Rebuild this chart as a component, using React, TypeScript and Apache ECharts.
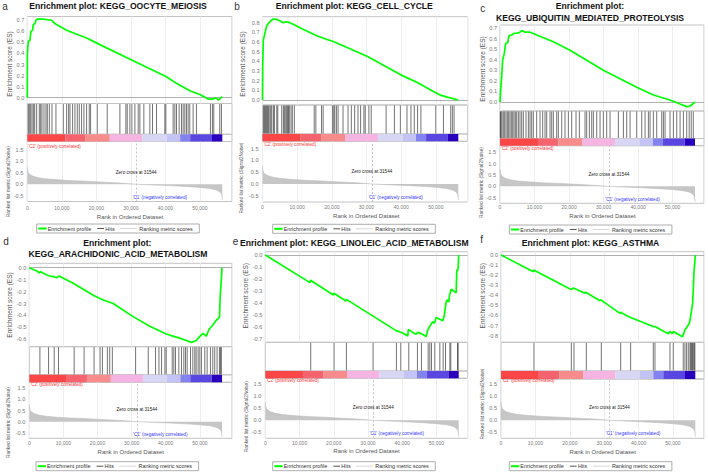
import React, { useEffect, useRef } from 'react';
import * as echarts from 'echarts';

const FONT = '"Liberation Sans", Arial, Helvetica, sans-serif';
const N_GENES = 56500;
const ZERO_CROSS = 31544;

// ---------- tick labels ----------
const xTicks = [0, 10000, 20000, 30000, 40000, 50000];
const metricTicks = [-0.5, 0, 0.5, 1.0, 1.5];
const esTicksA = [0, 0.1, 0.2, 0.3, 0.4, 0.5, 0.6, 0.7];
const esTicksB = [0, 0.1, 0.2, 0.3, 0.4, 0.5, 0.6, 0.7, 0.8];
const esTicksC = [0, 0.1, 0.2, 0.3, 0.4, 0.5, 0.6, 0.7];
const esTicksD = [-0.6, -0.5, -0.4, -0.3, -0.2, -0.1, 0];
const esTicksE = [-0.7, -0.6, -0.5, -0.4, -0.3, -0.2, -0.1, 0];
const esTicksF = [-0.8, -0.7, -0.6, -0.5, -0.4, -0.3, -0.2, -0.1, 0];

const legendLabels = ['Enrichment profile', 'Hits', 'Ranking metric scores'];

// ---------- ranked list metric (shared) ----------
const metricRanks = [0, 100, 300, 700, 1500, 3000, 5000, 8000, 12000, 17000, 22000, 27000, 31544, 36000, 41000, 46000, 50000, 53000, 55000, 56000, 56300, 56450, 56500];
const metricScores = [0.76, 0.6, 0.5, 0.43, 0.36, 0.29, 0.24, 0.2, 0.16, 0.13, 0.09, 0.05, 0, -0.03, -0.06, -0.1, -0.14, -0.19, -0.26, -0.36, -0.45, -0.58, -0.68];

// ---------- colour band of the ranked list ----------
const bandStarts = [0, 11000, 16900, 23900, 33300, 40400, 44300, 47200, 53500];
const bandEnds = [11000, 16900, 23900, 33300, 40400, 44300, 47200, 53500, 56500];
const bandColours = ['#fa4646', '#f5646e', '#f88c8c', '#f5b4e1', '#d7d7f5', '#c3c3f5', '#8282f0', '#5a46e1', '#2800be'];

// ---------- a: KEGG_OOCYTE_MEIOSIS ----------
const oocyteES = [[0, 0], [30, 0.4], [300, 0.51], [780, 0.52], [1060, 0.6], [1540, 0.61], [1730, 0.66], [2220, 0.67], [2510, 0.7], [2900, 0.71], [4630, 0.71], [7040, 0.7], [8000, 0.67], [11380, 0.61], [17170, 0.54], [21030, 0.48], [30680, 0.335], [40320, 0.19], [43220, 0.13], [47080, 0.063], [49980, 0.03], [52390, -0.012], [53840, -0.012], [54620, 0.0], [55290, -0.02], [55770, -0.01], [56500, 0.01]];
const oocyteHits = [300, 590, 970, 1360, 1750, 2130, 2710, 3480, 3870, 4250, 4830, 5410, 5800, 6380, 7150, 8300, 10430, 11390, 11970, 12360, 13130, 13800, 14480, 15060, 15730, 16410, 17180, 17950, 18340, 20270, 23160, 26830, 28560, 28950, 29720, 30300, 31170, 32130, 32620, 33770, 35510, 36280, 37440, 39850, 40140, 42260, 42750, 43230, 44000, 44680, 45160, 45640, 46120, 46600, 47080, 48050, 49010, 53060, 53640, 54030, 55760, 56250];

// ---------- b: KEGG_CELL_CYCLE ----------
const cellCycleES = [[0, 0], [60, 0.345], [240, 0.62], [700, 0.69], [1170, 0.765], [1650, 0.79], [2410, 0.82], [3080, 0.838], [4040, 0.834], [4990, 0.82], [5950, 0.8], [6900, 0.81], [7860, 0.8], [9290, 0.776], [11200, 0.74], [15990, 0.66], [20770, 0.6], [30330, 0.45], [39890, 0.26], [44670, 0.18], [49450, 0.086], [51360, 0.05], [53270, 0.03], [54710, 0.017], [56500, 0]];
const cellCycleHits = [300, 580, 870, 1160, 1440, 1730, 2110, 2400, 2690, 3160, 3450, 4120, 4410, 5550, 6030, 6320, 6700, 6990, 7280, 7470, 7750, 8230, 8610, 9190, 14920, 15400, 17030, 17500, 20180, 20560, 20850, 21330, 21810, 23240, 24680, 25630, 26590, 27550, 28310, 29260, 29650, 30700, 31370, 35670, 38060, 39780, 41690, 42840, 43800, 44750, 45710, 50010, 52210, 54310, 54790, 55280];

// ---------- c: KEGG_UBIQUITIN_MEDIATED_PROTEOLYSIS ----------
const ubiquitinES = [[0, 0], [194, 0.11], [486, 0.24], [778, 0.4], [1254, 0.46], [1643, 0.555], [2226, 0.56], [2605, 0.625], [3383, 0.634], [4150, 0.65], [4831, 0.65], [5608, 0.656], [6279, 0.675], [7251, 0.66], [8699, 0.66], [10624, 0.634], [15455, 0.57], [20286, 0.49], [29947, 0.3], [39609, 0.14], [44440, 0.066], [49271, 0.019], [52177, -0.019], [54110, -0.044], [55080, -0.038], [56500, 0]];
const ubiquitinHits = [100, 292, 583, 962, 1351, 1740, 2129, 2508, 2897, 3285, 3674, 4053, 4442, 4831, 5317, 5793, 6279, 6765, 7533, 8213, 8699, 9176, 9662, 10624, 11596, 12364, 13044, 13530, 14493, 14979, 15455, 16427, 16903, 17875, 18837, 19809, 20772, 22026, 22998, 24640, 25116, 25894, 26574, 27051, 28023, 28985, 29947, 30919, 31882, 34302, 35750, 36712, 37684, 39609, 41067, 42029, 42992, 43478, 44440, 45412, 46860, 47346, 47822, 49271, 50243, 51205, 52177, 53139, 54102, 54820, 55400, 56000];

// ---------- d: KEGG_ARACHIDONIC_ACID_METABOLISM ----------
const arachidonicES = [[0, 0], [2160, -0.028], [2940, -0.042], [3320, -0.034], [5080, -0.061], [6050, -0.07], [7030, -0.075], [8010, -0.084], [8790, -0.07], [9960, -0.089], [12890, -0.13], [15810, -0.18], [18730, -0.23], [21660, -0.27], [24580, -0.3], [30440, -0.41], [35300, -0.49], [40180, -0.556], [42120, -0.573], [44070, -0.59], [46020, -0.61], [47490, -0.626], [48960, -0.61], [49930, -0.578], [50900, -0.55], [51870, -0.573], [52650, -0.52], [53820, -0.48], [54800, -0.44], [55480, -0.425], [55770, -0.41], [55970, -0.24], [56360, -0.075], [56500, 0]];
const arachidonicHits = [3110, 5650, 7300, 8560, 13150, 16070, 18990, 20750, 21440, 22890, 23570, 24350, 31170, 34880, 37020, 38010, 38780, 39760, 40150, 41900, 42380, 42870, 43850, 44630, 45310, 45800, 46290, 47260, 47950, 48530, 48920, 49500, 50000, 50470, 51460, 52140, 53110, 53800, 54370, 55060, 55750, 56040, 56320];

// ---------- e: KEGG_LINOLEIC_ACID_METABOLISM ----------
const linoleicES = [[0, 0], [13060, -0.23], [13200, -0.21], [19880, -0.333], [20000, -0.318], [23590, -0.383], [23700, -0.37], [38210, -0.63], [40160, -0.65], [41620, -0.675], [41810, -0.62], [43080, -0.645], [44060, -0.66], [44540, -0.645], [45520, -0.655], [46980, -0.68], [47470, -0.625], [48250, -0.585], [48930, -0.555], [49420, -0.57], [49900, -0.52], [51850, -0.547], [52340, -0.5], [52630, -0.425], [53020, -0.375], [53600, -0.39], [53800, -0.34], [54290, -0.286], [55750, -0.314], [55950, -0.125], [56300, -0.125], [56500, 0]];
const linoleicHits = [13270, 20090, 23690, 31490, 38310, 39580, 41920, 44450, 45620, 47570, 48060, 48550, 49520, 50990, 51960, 52640, 53910, 54200, 56150, 56350];

// ---------- f: KEGG_ASTHMA ----------
const asthmaES = [[0, 0], [9400, -0.165], [9500, -0.149], [20080, -0.337], [20560, -0.34], [21050, -0.327], [24420, -0.38], [24600, -0.37], [28790, -0.453], [28950, -0.443], [34580, -0.579], [34750, -0.569], [37490, -0.618], [44280, -0.71], [44770, -0.71], [48640, -0.78], [49130, -0.76], [49800, -0.78], [50100, -0.76], [52810, -0.81], [53490, -0.744], [54170, -0.71], [54750, -0.68], [55140, -0.61], [55430, -0.545], [55720, -0.48], [55910, -0.347], [56110, -0.18], [56500, 0]];
const asthmaHits = [9590, 20450, 21220, 24810, 29170, 34800, 37700, 44280, 44770, 49130, 50100, 53000, 53490, 53970, 54460, 54940, 55180, 55430, 55670, 55910, 56200, 56380];

// ---------- panel layout (pixels / styling) ----------
const panels = [
  { letter: 'a', titles: [['Enrichment plot: KEGG_OOCYTE_MEIOSIS', 118, 6.3]], es: oocyteES, hits: oocyteHits, esTicks: esTicksA,
    L: 27.3, R: 232, E: 222.3, esT: 16.5, esB: 103.5, hitB: 134.3, barB: 141.5, metB: 201.5, esMin: -0.052, esMax: 0.734, metMin: -0.752, metMax: 1.857,
    xLabY: 208, rankX: 130, rankY: 216.7, letterX: 5, letterY: 6, esNameX: 9.3, esNameY: 64, metNameX: 8.3, metNameY: 181.7, legX: 36.7, legY: 224 },
  { letter: 'b', titles: [['Enrichment plot: KEGG_CELL_CYCLE', 354.3, 6.3]], es: cellCycleES, hits: cellCycleHits, esTicks: esTicksB,
    L: 262.5, R: 467.7, E: 458.3, esT: 16.7, esB: 105, hitB: 134, barB: 141.3, metB: 202, esMin: -0.052, esMax: 0.862, metMin: -0.766, metMax: 1.817,
    xLabY: 206.7, rankX: 366.3, rankY: 216, letterX: 237, letterY: 6, esNameX: 242, esNameY: 64, metNameX: 241, metNameY: 178, legX: 272.7, legY: 224.3 },
  { letter: 'c', titles: [['Enrichment plot:', 590, 6], ['KEGG_UBIQUITIN_MEDIATED_PROTEOLYSIS', 590, 18.3]], es: ubiquitinES, hits: ubiquitinHits, esTicks: esTicksC,
    L: 500, R: 704, E: 695, esT: 25, esB: 111, hitB: 138.5, barB: 145.7, metB: 203.3, esMin: -0.085, esMax: 0.728, metMin: -0.745, metMax: 1.79,
    xLabY: 207, rankX: 602.5, rankY: 216, letterX: 482.7, letterY: 8.5, esNameX: 482.7, esNameY: 69, metNameX: 481.7, metNameY: 182.5, legX: 509.3, legY: 225 },
  { letter: 'd', titles: [['Enrichment plot:', 117.3, 243.3], ['KEGG_ARACHIDONIC_ACID_METABOLISM', 118, 254.3]], es: arachidonicES, hits: arachidonicHits, esTicks: esTicksD,
    L: 29.3, R: 232, E: 222, esT: 263.3, esB: 346.7, hitB: 374.8, barB: 382.3, metB: 438.3, esMin: -0.662, esMax: 0.037, metMin: -0.75, metMax: 1.77,
    xLabY: 443.3, rankX: 130.8, rankY: 451.7, letterX: 6, letterY: 241.7, esNameX: 9.3, esNameY: 305, metNameX: 8.3, metNameY: 422.5, legX: 36, legY: 461.7 },
  { letter: 'e', titles: [['Enrichment plot: KEGG_LINOLEIC_ACID_METABOLISM', 354.3, 242.7]], es: linoleicES, hits: linoleicHits, esTicks: esTicksE,
    L: 265.3, R: 467.7, E: 458.7, esT: 251.7, esB: 342.3, hitB: 371, barB: 378.3, metB: 438.3, esMin: -0.7275, esMax: 0.0275, metMin: -0.75, metMax: 1.75,
    xLabY: 443.3, rankX: 366.5, rankY: 451, letterX: 235.5, letterY: 241.7, esNameX: 245.3, esNameY: 295.7, metNameX: 246, metNameY: 416.7, legX: 272.7, legY: 461.7 },
  { letter: 'f', titles: [['Enrichment plot: KEGG_ASTHMA', 590.5, 243.3]], es: asthmaES, hits: asthmaHits, esTicks: esTicksF,
    L: 501, R: 704, E: 695.3, esT: 251.7, esB: 342.3, hitB: 371, barB: 379, metB: 438.3, esMin: -0.866, esMax: 0.033, metMin: -0.75, metMax: 1.72,
    xLabY: 443.3, rankX: 602.8, rankY: 451.7, letterX: 481.7, letterY: 239.3, esNameX: 482.7, esNameY: 295.7, metNameX: 482.7, metNameY: 404, legX: 509.3, legY: 461.7 },
];

const FRAME = '#c4c4c4';
const GRIDLINE = '#eeeeee';

function buildOption() {
  const grid: any[] = [];
  const xAxis: any[] = [];
  const yAxis: any[] = [];
  const series: any[] = [];
  const graphic: any[] = [];

  const metricData = metricRanks.map((r, i) => [r, metricScores[i]]);
  const bandData = bandStarts.map((s, i) => [s, bandEnds[i], 0.5, i]);

  panels.forEach((p, pi) => {
    const xmax = N_GENES * (p.R - p.L) / (p.E - p.L);
    const w = p.R - p.L;
    const gi = pi * 4;
    const boxes = [
      [p.esT, p.esB], [p.esB, p.hitB], [p.hitB, p.barB], [p.barB, p.metB],
    ];
    boxes.forEach(([t, b], k) => {
      grid.push({ left: p.L, top: t, width: w, height: b - t, show: true, borderColor: FRAME, borderWidth: 1, backgroundColor: 'transparent', containLabel: false, outerBoundsMode: 'none' });
      const isMetric = k === 3;
      const showSplit = k === 0 || k === 3;
      xAxis.push({
        type: 'value', gridIndex: gi + k, min: 0, max: xmax, interval: 10000,
        axisLine: { show: false }, axisTick: { show: false },
        splitLine: { show: showSplit, lineStyle: { color: GRIDLINE, width: 1 } },
        axisLabel: isMetric ? {
          show: true, customValues: xTicks, fontSize: 5, color: '#7a7a7a', fontFamily: FONT,
          margin: p.xLabY - p.metB - 2.5,
          formatter: (v: number) => v.toLocaleString('en-US'),
        } : { show: false },
      });
    });
    // y axes
    yAxis.push({
      type: 'value', gridIndex: gi, min: p.esMin, max: p.esMax,
      axisLine: { show: false }, axisTick: { show: false }, splitLine: { show: false },
      axisLabel: { show: true, customValues: p.esTicks, fontSize: 5.6, color: '#7a7a7a', fontFamily: FONT, margin: 3, formatter: (v: number) => v.toFixed(1) },
    });
    yAxis.push({ type: 'value', gridIndex: gi + 1, min: 0, max: 1, show: false });
    yAxis.push({ type: 'value', gridIndex: gi + 2, min: 0, max: 1, show: false });
    yAxis.push({
      type: 'value', gridIndex: gi + 3, min: p.metMin, max: p.metMax,
      axisLine: { show: false }, axisTick: { show: false }, splitLine: { show: false },
      axisLabel: { show: true, customValues: metricTicks, fontSize: 5.6, color: '#7a7a7a', fontFamily: FONT, margin: 4, formatter: (v: number) => v.toFixed(1) },
    });

    // ES curve
    series.push({
      type: 'line', name: legendLabels[0], xAxisIndex: gi, yAxisIndex: gi, data: p.es,
      showSymbol: false, symbol: 'none', lineStyle: { color: '#00ff00', width: 1.7 }, z: 5,
      markLine: { silent: true, symbol: ['none', 'none'], label: { show: false }, lineStyle: { color: '#b0b0b0', type: 'solid', width: 1 }, data: [{ yAxis: 0 }] },
    });
    // Hits
    series.push({
      type: 'custom', name: legendLabels[1], xAxisIndex: gi + 1, yAxisIndex: gi + 1,
      data: p.hits.map((h) => [h, 0.5]), encode: { x: 0, y: 1 },
      renderItem: (params: any, api: any) => {
        const x = api.coord([api.value(0), 0.5])[0];
        const cs = params.coordSys;
        return { type: 'line', shape: { x1: x, y1: cs.y + 0.5, x2: x, y2: cs.y + cs.height - 0.5 }, style: { stroke: 'rgba(0,0,0,0.55)', lineWidth: 1 } };
      },
    });
    // Colour band
    series.push({
      type: 'custom', xAxisIndex: gi + 2, yAxisIndex: gi + 2,
      data: bandData, encode: { x: [0, 1], y: 2 },
      renderItem: (params: any, api: any) => {
        const x0 = api.coord([api.value(0), 0.5])[0];
        const x1 = api.coord([api.value(1), 0.5])[0];
        const cs = params.coordSys;
        return { type: 'rect', shape: { x: x0, y: cs.y, width: x1 - x0, height: cs.height }, style: { fill: bandColours[api.value(3)] } };
      },
    });
    // Ranked metric
    series.push({
      type: 'line', name: legendLabels[2], xAxisIndex: gi + 3, yAxisIndex: gi + 3, data: metricData,
      showSymbol: false, symbol: 'none', lineStyle: { color: '#bdbdbd', width: 0.6 },
      areaStyle: { color: '#c6c6c6', opacity: 1 },
      markLine: { silent: true, symbol: ['none', 'none'], label: { show: false }, lineStyle: { color: '#b8b8b8', type: [2, 2], width: 0.8 }, data: [{ xAxis: ZERO_CROSS }] },
      markPoint: {
        silent: true, symbol: 'circle', symbolSize: 0,
        data: [
          { coord: [ZERO_CROSS, 0.53], label: { show: true, position: 'inside', formatter: 'Zero cross at ' + ZERO_CROSS, fontSize: 4.6, color: '#222', fontFamily: FONT } },
          { coord: [38400, -0.57], label: { show: true, position: 'inside', formatter: "'C1' (negatively correlated)", fontSize: 4.6, color: '#3838ff', fontFamily: FONT } },
          { coord: [0, 1.66], label: { show: true, position: 'right', distance: 1, formatter: "'C2' (positively correlated)", fontSize: 4.6, color: '#ff3a3a', fontFamily: FONT } },
        ],
      },
    });

    // texts
    graphic.push({ type: 'text', x: p.letterX, y: p.letterY, style: { text: p.letter, fontSize: 10, fontFamily: FONT, fill: '#333', align: 'center', verticalAlign: 'middle' } });
    p.titles.forEach((t: any) => {
      graphic.push({ type: 'text', x: t[1], y: t[2], z: 10, style: { text: t[0], fontSize: 8.6, fontWeight: 'bold', fontFamily: FONT, fill: '#111', align: 'center', verticalAlign: 'middle', backgroundColor: '#fff' } });
    });
    graphic.push({ type: 'text', x: p.esNameX, y: p.esNameY, rotation: Math.PI / 2, style: { text: 'Enrichment score (ES)', fontSize: 6.5, fontFamily: FONT, fill: '#555', align: 'center', verticalAlign: 'middle' } });
    graphic.push({ type: 'text', x: p.metNameX, y: p.metNameY, rotation: Math.PI / 2, style: { text: 'Ranked list metric (Signal2Noise)', fontSize: 4.8, fontFamily: FONT, fill: '#555', align: 'center', verticalAlign: 'middle' } });
    graphic.push({ type: 'text', x: p.rankX, y: p.rankY, style: { text: 'Rank in Ordered Dataset', fontSize: 6, fontFamily: FONT, fill: '#555', align: 'center', verticalAlign: 'middle' } });

    // legend
    const lx = p.legX, ly = p.legY, lw = 162.6, lh = 9, cy = ly + lh / 2;
    graphic.push({ type: 'rect', shape: { x: lx, y: ly, width: lw, height: lh }, style: { fill: '#fff', stroke: '#9a9a9a', lineWidth: 0.8 } });
    graphic.push({ type: 'line', shape: { x1: lx + 1.6, y1: cy, x2: lx + 10, y2: cy }, style: { stroke: '#00ff00', lineWidth: 2 } });
    graphic.push({ type: 'text', x: lx + 11, y: cy, style: { text: legendLabels[0], fontSize: 5.4, fontFamily: FONT, fill: '#333', verticalAlign: 'middle' } });
    graphic.push({ type: 'line', shape: { x1: lx + 60.6, y1: cy, x2: lx + 67.3, y2: cy }, style: { stroke: '#555', lineWidth: 1 } });
    graphic.push({ type: 'text', x: lx + 68.6, y: cy, style: { text: legendLabels[1], fontSize: 5.4, fontFamily: FONT, fill: '#333', verticalAlign: 'middle' } });
    graphic.push({ type: 'line', shape: { x1: lx + 83.3, y1: cy, x2: lx + 100, y2: cy }, style: { stroke: '#d8d8d8', lineWidth: 1 } });
    graphic.push({ type: 'text', x: lx + 102.6, y: cy, style: { text: legendLabels[2], fontSize: 5.4, fontFamily: FONT, fill: '#333', verticalAlign: 'middle' } });
  });

  return {
    animation: false,
    backgroundColor: '#ffffff',
    textStyle: { fontFamily: FONT },
    grid, xAxis, yAxis, series, graphic,
  };
}

export default function App() {
  const ref = useRef<HTMLDivElement>(null);
  useEffect(() => {
    if (!ref.current) return;
    const chart = echarts.init(ref.current, undefined, { renderer: 'svg' });
    chart.setOption(buildOption() as any);
    return () => chart.dispose();
  }, []);
  return <div ref={ref} style={{ position: 'absolute', left: 0, top: 0, width: 708, height: 473 }} />;
}
